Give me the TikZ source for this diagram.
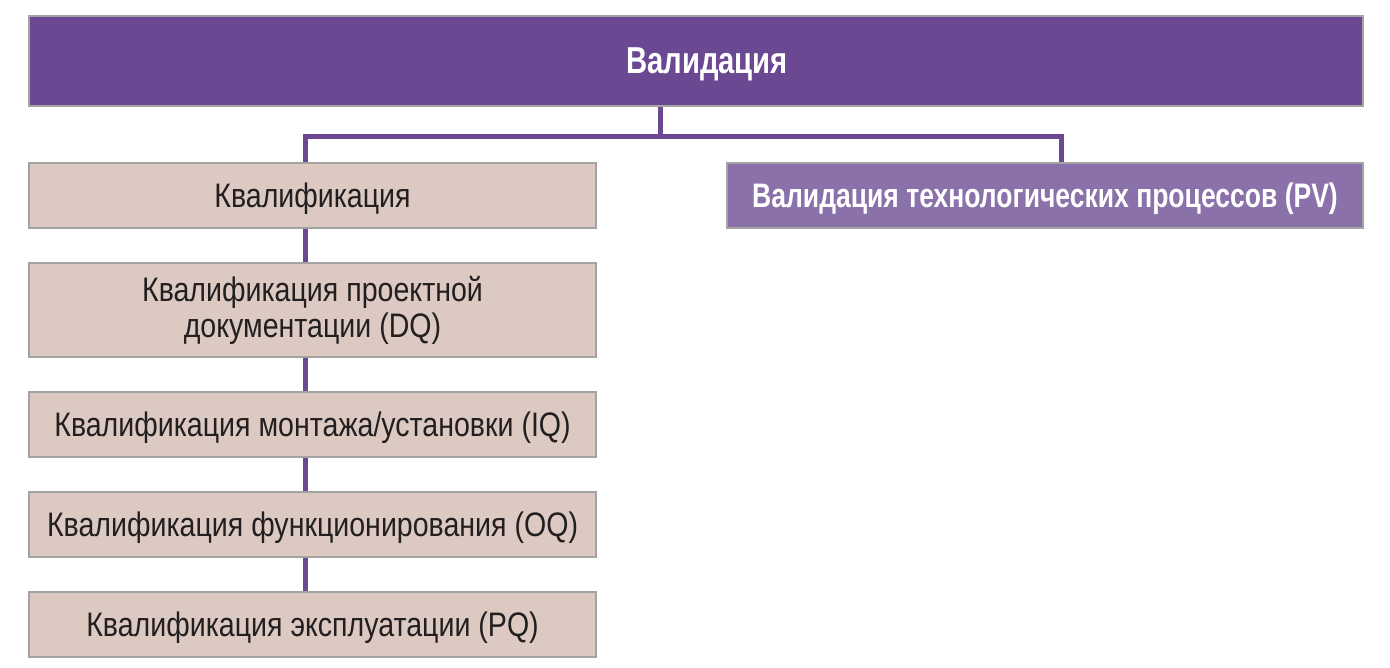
\documentclass[tikz,border=0pt]{standalone}
\usepackage{fontspec}
\setmainfont{Liberation Sans}[FakeStretch=0.84, BoldFeatures={FakeStretch=0.78}]
\definecolor{topvio}{HTML}{6A4892}
\definecolor{pvvio}{HTML}{8A71AA}
\definecolor{beige}{HTML}{DCCAC2}
\definecolor{edge}{HTML}{A3A3A3}
\definecolor{txt}{HTML}{231F20}
\tikzset{
  box/.style={draw=edge, line width=2pt, inner sep=0pt, align=center},
  qbox/.style={box, fill=beige, text=txt, font=\fontsize{34}{36}\selectfont},
  one/.style={text depth=0pt},
  link/.style={draw=topvio, line width=5pt, line join=miter}
}
\begin{document}
\begin{tikzpicture}[x=1pt,y=-1pt]
\useasboundingbox (0,0) rectangle (1390,668);
\node[box, one, fill=topvio, text=white, font=\bfseries\fontsize{37.5}{40}\selectfont,
  minimum width=1334pt, minimum height=90pt] (top) at (696,61) {\hspace*{22pt}Валидация};
\node[qbox, one, minimum width=567pt, minimum height=65pt] (q) at (312.5,195.5) {Квалификация};
\node[qbox, minimum width=567pt, minimum height=94pt] (dq) at (312.5,310) {Квалификация проектной\\документации (DQ)};
\node[qbox, one, minimum width=567pt, minimum height=65pt] (iq) at (312.5,424.5) {Квалификация монтажа/установки (IQ)};
\node[qbox, one, minimum width=567pt, minimum height=65pt] (oq) at (312.5,524.5) {Квалификация функционирования (OQ)};
\node[qbox, one, minimum width=567pt, minimum height=65pt] (pq) at (312.5,624.5) {Квалификация эксплуатации (PQ)};
\node[box, one, fill=pvvio, text=white, font=\bfseries\fontsize{34}{36}\selectfont,
  minimum width=636pt, minimum height=65pt] (pv) at (1045,195.5) {Валидация технологических процессов (PV)};
\coordinate (j) at (660,137);
\coordinate (l) at (305,137);
\coordinate (r) at (1061,137);
\draw[link] (top.south -| j) -- (j);
\draw[link] (q.north -| l) -- (l) -- (r) -- (pv.north -| r);
\draw[link] (q.south -| l) -- (dq.north -| l);
\draw[link] (dq.south -| l) -- (iq.north -| l);
\draw[link] (iq.south -| l) -- (oq.north -| l);
\draw[link] (oq.south -| l) -- (pq.north -| l);
\end{tikzpicture}
\end{document}
